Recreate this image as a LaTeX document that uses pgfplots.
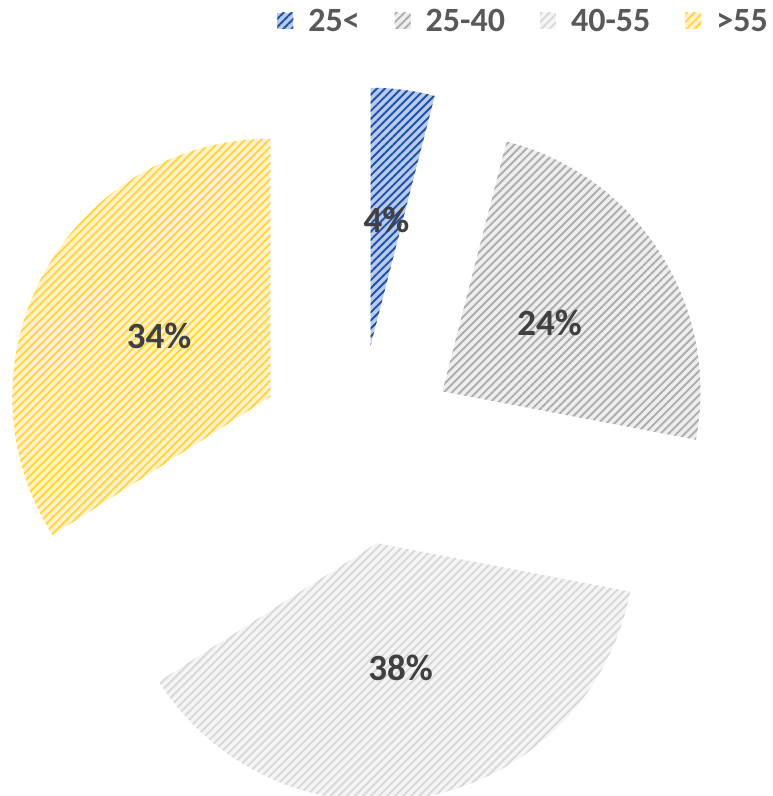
\documentclass[border=0pt]{standalone}
\usepackage{fontspec}
\setmainfont{Carlito}
\usepackage{pgfplots}
\pgfplotsset{compat=1.18}
\usetikzlibrary{patterns.meta}

\definecolor{bgA}{HTML}{B6CBEE}\definecolor{lnA}{HTML}{1F50A6}
\definecolor{bgB}{HTML}{EEEEEE}\definecolor{lnB}{HTML}{ADADAD}
\definecolor{bgC}{HTML}{F5F5F5}\definecolor{lnC}{HTML}{D8D8D8}
\definecolor{bgD}{HTML}{FFF2C8}\definecolor{lnD}{HTML}{FFD447}
\definecolor{lbl}{HTML}{404040}\definecolor{leg}{HTML}{595959}

\tikzset{
  hatch/.style 2 args={preaction={fill=#1, draw=none},
    pattern={Lines[angle=45,distance=5.7bp,line width=1.9bp]}, pattern color=#2},
  sliceA/.style={hatch={bgA}{lnA}},
  sliceB/.style={hatch={bgB}{lnB}},
  sliceC/.style={hatch={bgC}{lnC}},
  sliceD/.style={hatch={bgD}{lnD}},
  lblstyle/.style={text=lbl, font=\fontsize{37bp}{44bp}\selectfont\bfseries, inner sep=0pt},
}
\pgfplotsset{
  legsq/.style 2 args={legend image code/.code={%
    \path[fill=#1, draw=none] (0bp,-8bp) rectangle (16bp,8bp);
    \path[draw=none, pattern={Lines[angle=45,distance=5.7bp,line width=1.9bp]},
          pattern color=#2] (0bp,-8bp) rectangle (16bp,8bp);
    \path[draw=none, fill=none] (30bp,0bp) circle[radius=0pt];}},
}

% \slice{start (percent)}{value (percent)}{style}{label}
\newcommand\slice[4]{%
  \pgfmathsetmacro\sa{90-3.6*(#1)}%
  \pgfmathsetmacro\ea{90-3.6*((#1)+(#2))}%
  \pgfmathsetmacro\ma{(\sa+\ea)/2}%
  \pgfmathsetmacro\ax{358+100*cos(\ma)}%
  \pgfmathsetmacro\ay{351+100*sin(\ma)}%
  \pgfmathsetmacro\lx{358+227*cos(\ma)}%
  \pgfmathsetmacro\ly{351+227*sin(\ma)}%
  \edef\temp{%
    \noexpand\fill[#3] (axis cs:\ax,\ay) -- ++(\sa:258bp)
      arc[start angle=\sa, end angle=\ea, radius=258bp] -- cycle;
    \noexpand\node[lblstyle] at (axis cs:\lx,\ly) {#4};}%
  \temp
}

\begin{document}
\begin{tikzpicture}
\begin{axis}[
  hide axis, scale only axis,
  width=773bp, height=796bp,
  xmin=0, xmax=773, ymin=0, ymax=796,
  clip=false,
  legend columns=4,
  legend style={at={(axis cs:769,775)}, anchor=east, draw=none, fill=none,
    inner sep=0pt, text=leg,
    font=\fontsize{34bp}{40bp}\selectfont\bfseries,
    nodes={inner sep=1bp},
    /tikz/every even column/.append style={column sep=34bp}},
]
\addplot[draw=none, mark=none, forget plot] coordinates {(0,0) (773,796)};
\addlegendimage{legsq={bgA}{lnA}}\addlegendentry{25<}
\addlegendimage{legsq={bgB}{lnB}}\addlegendentry{25-40}
\addlegendimage{legsq={bgC}{lnC}}\addlegendentry{40-55}
\addlegendimage{legsq={bgD}{lnD}}\addlegendentry{>55}
\slice{0}{4}{sliceA}{4\%}
\slice{4}{24}{sliceB}{24\%}
\slice{28}{38}{sliceC}{38\%}
\slice{66}{34}{sliceD}{34\%}
\coordinate (bbl) at (axis cs:0,0);
\coordinate (btr) at (axis cs:773,796);
\end{axis}
\pgfresetboundingbox
\path[use as bounding box] (bbl) rectangle (btr);
\end{tikzpicture}
\end{document}
